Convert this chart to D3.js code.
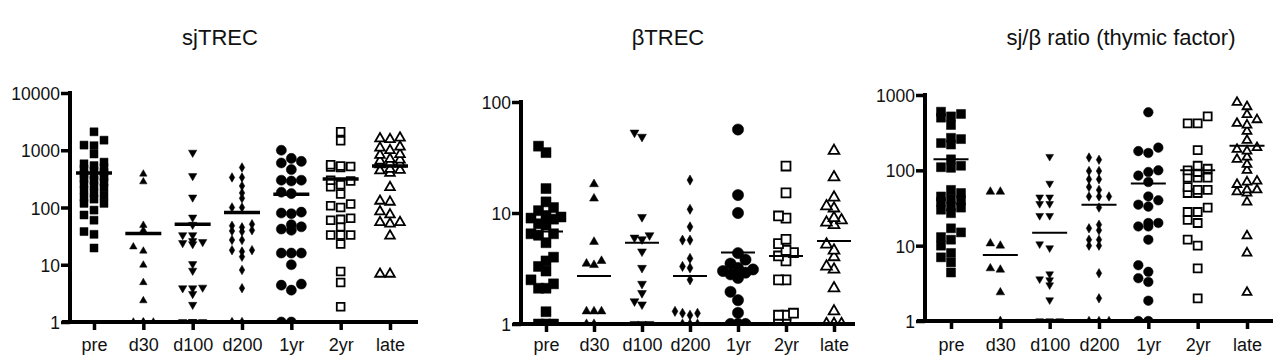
<!DOCTYPE html>
<html>
<head>
<meta charset="utf-8">
<script src="https://cdn.jsdelivr.net/npm/d3@7"></script>
<style>
  html, body { margin: 0; padding: 0; background: #fff; }
  svg { display: block; }
  text { font-family: 'Liberation Sans', Arial, sans-serif; fill: #111; }
</style>
</head>
<body>
<svg id="chart" width="1280" height="363"></svg>
<script>
// ---------- DATA ----------
const categories = ["pre", "d30", "d100", "d200", "1yr", "2yr", "late"];
const titles = ["sjTREC", "\u03B2TREC", "sj/\u03B2 ratio (thymic factor)"];

const sjTickValues = [1, 10, 100, 1000, 10000];
const betaTickValues = [1, 10, 100];
const ratioTickValues = [1, 10, 100, 1000];

// sjTREC values per category
const sjPre  = [2100,1500,1230,1200,860,620,580,540,500,470,440,410,380,360,340,320,300,280,260,240,220,200,180,160,150,140,118,118,90,74,60,38,34,19.6];
const sjD30  = [385,282,49,40,20.6,17.4,9.9,4.9,2.36,1,1,1,1];
const sjD100 = [910,355,150,67,50,33,33,26,25,24,23,10.3,7.9,4,3.9,3.9,3.1,2,1,1,1,1];
const sjD200 = [500,335,335,238,180,145,100,100,51,48,45,39,38,40,27,27,18,18,17,13.8,8.1,3.9,1,1];
const sj1yr  = [1000,720,600,640,460,300,300,290,185,175,83,80,78,50,46,42,40,16,16,16,10,4.4,4.6,3.6,1,1];
const sj2yr  = [2100,1470,560,530,520,510,500,300,290,250,230,172,115,107,100,65,62,60,46,33,33,33,23,7.6,4.9,1.85];
const sjLate = [1650,1550,1600,1150,1100,1000,850,820,700,680,650,600,580,560,470,450,440,400,225,130,125,85,75,55,55,52,32,6.9,6.9];
const sjMedians = [400,35,51,82,170,315,530];

// betaTREC values per category
const betaPre  = [40,35,16.6,12.6,11.2,10.5,9.5,9.2,9,8.8,8,7.8,6.5,6.3,6.5,5.4,4.0,3.7,3.3,3.0,2.5,2.3,2.1,2.1,1.29,1,1,1];
const betaD30  = [18.2,13.5,5.5,3.7,3.5,3.4,1.3,1.3,1.3,1,1];
const betaD100 = [53,48.6,9.2,6.3,6.0,5.8,4.5,3.2,2.3,1.9,1.6,1.5,1,1,1];
const betaD200 = [19.8,10.8,7.5,5.7,5.7,3.9,3.3,3.2,2.5,1.3,1.25,1.25,1.2,1,1,1];
const beta1yr  = [56.5,14.5,10,4.35,3.8,3.5,3.2,3.0,2.8,2.6,3.1,2.9,1.95,1.64,1.26,1,1,1];
const beta2yr  = [26.5,15.2,9.0,9.4,5.8,5.3,4.6,4.4,4.1,3.7,2.5,2.5,1.25,1.2,1.2,1,1];
const betaLate = [36.3,21,13.8,11.5,11.0,8.6,9.0,8.2,7.8,5.2,4.6,4.0,3.1,3.3,2.1,1.3,1,1,1];
const betaMedians = [6.8,2.7,5.4,2.7,4.4,4.1,5.6];

// sj/beta ratio values per category
const ratioPre  = [600,560,520,500,400,270,230,260,220,140,115,108,110,55,50,45,42,40,38,33,32,30,27,17,15,13,12,10,8,7,6,4.4];
const ratioD30  = [52,52,10.7,10,4.8,5,2.4,1];
const ratioD100 = [152,67,44,44,36,36,25,25,10.5,9.3,4.2,3.5,3.0,3.6,1.9,1,1,1];
const ratioD200 = [148,138,98,98,76,76,60,55,45,45,45,32,19,16,17,12,10,10,12,4.3,2.0,1,1,1];
const ratio1yr  = [590,180,170,200,95,100,85,70,45,40,35,33,18,20,20,18,12,5.5,4.5,3.7,3.3,1.86,1,1];
const ratio2yr  = [520,420,420,186,115,100,105,95,80,80,80,60,55,55,50,50,32,28,28,22,20,10,12,5.0,2.0];
const ratioLate = [800,700,550,470,420,400,330,250,200,190,180,150,140,120,100,70,65,72,55,52,55,50,38,13.5,8,2.4];
const ratioMedians = [140,7.5,14.8,35,67,100,212];

// ---------- LAYOUT / STYLE ----------
const svg = d3.select("#chart");

const symbolKinds = [
  { type: d3.symbolSquare,   fill: true,  rotate: 0 },
  { type: d3.symbolTriangle, fill: true,  rotate: 0 },
  { type: d3.symbolTriangle, fill: true,  rotate: 180 },
  { type: d3.symbolDiamond,  fill: true,  rotate: 0 },
  { type: d3.symbolCircle,   fill: true,  rotate: 0 },
  { type: d3.symbolSquare,   fill: false, rotate: 0 },
  { type: d3.symbolTriangle, fill: false, rotate: 0 }
];

const panels = [
  { title: titles[0], titleX: 220, data: [sjPre, sjD30, sjD100, sjD200, sj1yr, sj2yr, sjLate], medians: sjMedians,
    ticks: sjTickValues, axisX: 70, yTop: 93, yBottom: 322, xFirst: 94, xLast: 390, xEnd: 418,
    sizes: [64, 24, 30, 26, 80, 60, 40], slot: 10, maxK: 1, medW: 36, medStroke: 3.5 },
  { title: titles[1], titleX: 668, data: [betaPre, betaD30, betaD100, betaD200, beta1yr, beta2yr, betaLate], medians: betaMedians,
    ticks: betaTickValues, axisX: 521, yTop: 102, yBottom: 324, xFirst: 546, xLast: 834, xEnd: 855,
    sizes: [100, 34, 34, 30, 100, 80, 50], slot: 7.5, maxK: 2, medW: 34, medStroke: 2 },
  { title: titles[2], titleX: 1121, data: [ratioPre, ratioD30, ratioD100, ratioD200, ratio1yr, ratio2yr, ratioLate], medians: ratioMedians,
    ticks: ratioTickValues, axisX: 925, yTop: 95, yBottom: 321, xFirst: 951, xLast: 1247, xEnd: 1273,
    sizes: [81, 32, 26, 26, 72, 64, 34], slot: 10, maxK: 1, medW: 35, medStroke: 2 }
];

// deterministic column-swarm: 0, -1, +1, -2, +2 ... slots, limited to maxK
function swarm(values, y, cx, slot, minDy, maxK) {
  const pts = values.map(v => ({ v, y: y(v) })).sort((a, b) => b.y - a.y);
  const offsets = [0];
  for (let k = 1; k <= maxK; k++) offsets.push(-k, k);
  const placed = [];
  pts.forEach(p => {
    let best = null, bestGap = -1;
    for (const o of offsets) {
      const off = o * slot;
      const same = placed.filter(q => Math.abs(q.off - off) < slot * 0.5);
      const gap = same.length ? d3.min(same, q => Math.abs(q.y - p.y)) : Infinity;
      if (gap >= minDy) { best = off; break; }
      if (gap > bestGap) { bestGap = gap; best = off; }
    }
    p.off = best;
    p.x = cx + p.off;
    placed.push(p);
  });
  return placed;
}

panels.forEach((P, pi) => {
  const g = svg.append("g");
  const y = d3.scaleLog().domain([P.ticks[0], P.ticks[P.ticks.length - 1]]).range([P.yBottom, P.yTop]);
  const x = d3.scalePoint().domain(categories).range([P.xFirst, P.xLast]);

  // title
  g.append("text").attr("x", P.titleX).attr("y", 45).attr("text-anchor", "middle")
    .style("font-size", "22px").text(P.title);

  // clip
  const clipId = "clip" + pi;
  g.append("clipPath").attr("id", clipId).append("rect")
    .attr("x", P.axisX).attr("y", 0).attr("width", P.xEnd - P.axisX).attr("height", P.yBottom);

  const pts = g.append("g").attr("clip-path", `url(#${clipId})`);
  categories.forEach((c, ci) => {
    const kind = symbolKinds[ci];
    const size = P.sizes[ci];
    const h = Math.sqrt(size) * 0.95;
    const placed = swarm(P.data[ci], y, x(c), P.slot, h, P.maxK);
    const sym = d3.symbol().type(kind.type).size(size);
    pts.selectAll(null).data(placed).enter().append("path")
      .attr("d", sym)
      .attr("transform", d => `translate(${d.x},${d.y}) rotate(${kind.rotate})`)
      .attr("fill", kind.fill ? "#000" : "#fff")
      .attr("stroke", "#000")
      .attr("stroke-width", kind.fill ? 0.5 : 1.8);
  });

  // median lines
  g.selectAll(null).data(P.medians).enter().append("line")
    .attr("x1", (d, i) => x(categories[i]) - P.medW / 2)
    .attr("x2", (d, i) => x(categories[i]) + P.medW / 2)
    .attr("y1", d => y(d)).attr("y2", d => y(d))
    .attr("stroke", "#000").attr("stroke-width", P.medStroke);

  // y axis
  const yAxis = d3.axisLeft(y).tickValues(P.ticks).tickFormat(d3.format("d")).tickSize(9).tickPadding(1);
  const ya = g.append("g").attr("transform", `translate(${P.axisX},0)`).call(yAxis);
  ya.select(".domain").attr("d", `M0,${P.yTop - 2}V${P.yBottom}`).attr("stroke-width", 4);
  ya.selectAll(".tick line").attr("stroke-width", 3.5);
  ya.selectAll(".tick text").style("font-size", "17.5px").attr("dy", "0.38em").style("font-family", null);

  // x axis
  const xAxis = d3.axisBottom(x).tickSize(8).tickPadding(6);
  const xa = g.append("g").attr("transform", `translate(0,${P.yBottom})`).call(xAxis);
  xa.select(".domain").attr("d", `M${P.axisX - 8},0H${P.xEnd}`).attr("stroke-width", 4);
  xa.selectAll(".tick line").attr("stroke-width", 3.5);
  xa.selectAll(".tick text").style("font-size", "18px").style("font-family", null)
    .attr("y", 351 - P.yBottom).attr("dy", 0);
});
</script>
</body>
</html>
